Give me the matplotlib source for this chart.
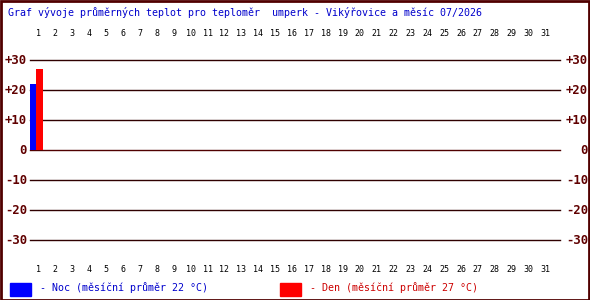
import matplotlib
matplotlib.use("Agg")
import matplotlib.pyplot as plt
from matplotlib.patches import Rectangle

days = list(range(1, 32))
night = [22] + [None] * 30
day_vals = [27] + [None] * 30
yticks = [30, 20, 10, 0, -10, -20, -30]
ylabels = ["+30", "+20", "+10", "0", "-10", "-20", "-30"]
title = "Graf vývoje průměrných teplot pro teploměr  umperk - Vikýřovice a měsíc 07/2026"
leg_night = "- Noc (měsíční průměr 22 °C)"
leg_day = "- Den (měsíční průměr 27 °C)"

W, H = 590, 300
fig = plt.figure(figsize=(W / 100, H / 100), dpi=100)
fig.patch.set_facecolor("white")

L, R, T, B = 30, 560, 60, 240
ax = fig.add_axes([L / W, 1 - B / H, (R - L) / W, (B - T) / H])
ax.set_xlim(0.5, 0.5 + (R - L) / 17)
ax.set_ylim(-30, 30)
ax.axis("off")

for yv in yticks:
    ax.axhline(yv, color="#300000" if yv != 0 else "#500000", lw=1.0,
               zorder=1, clip_on=False)

for d, n, v in zip(days, night, day_vals):
    if n is not None:
        ax.bar(d - 0.5, n, width=0.36, align="edge", color="#0000ff", zorder=3)
    if v is not None:
        ax.bar(d - 0.14, v, width=0.41, align="edge", color="#ff0000", zorder=3)

mono = "DejaVu Sans Mono"
lblcol = "#600000"
for yv, lab in zip(yticks, ylabels):
    py = B - (yv + 30) * 3
    fig.text(27 / W, 1 - py / H, lab, ha="right", va="center", fontsize=8.8,
             fontweight="bold", color=lblcol, family=mono)
    fig.text(588 / W, 1 - py / H, lab, ha="right", va="center", fontsize=8.8,
             fontweight="bold", color=lblcol, family=mono)

for d in days:
    px = 38.5 + 16.9 * (d - 1)
    for py in (34, 269):
        fig.text(px / W, 1 - py / H, str(d), ha="center", va="center",
                 fontsize=6, color="black", family=mono)

fig.text(8 / W, 1 - 13 / H, title, ha="left", va="center", fontsize=7.2,
         color="#0000cc", family=mono)

fig.patches.append(Rectangle((10 / W, 1 - 296 / H), 21 / W, 13 / H,
                             transform=fig.transFigure, color="#0000ff"))
fig.text(40 / W, 1 - 288 / H, leg_night, ha="left", va="center", fontsize=7.2,
         color="#0000cc", family=mono)
fig.patches.append(Rectangle((280 / W, 1 - 296 / H), 21 / W, 13 / H,
                             transform=fig.transFigure, color="#ff0000"))
fig.text(310 / W, 1 - 288 / H, leg_day, ha="left", va="center", fontsize=7.2,
         color="#cc0000", family=mono)

fig.patches.append(Rectangle((0.5 / W, 0.5 / H), (W - 1.5) / W, (H - 1.5) / H,
                             transform=fig.transFigure, fill=False,
                             edgecolor="#500000", lw=2))

fig.savefig("out.png", dpi=100, facecolor="white")
